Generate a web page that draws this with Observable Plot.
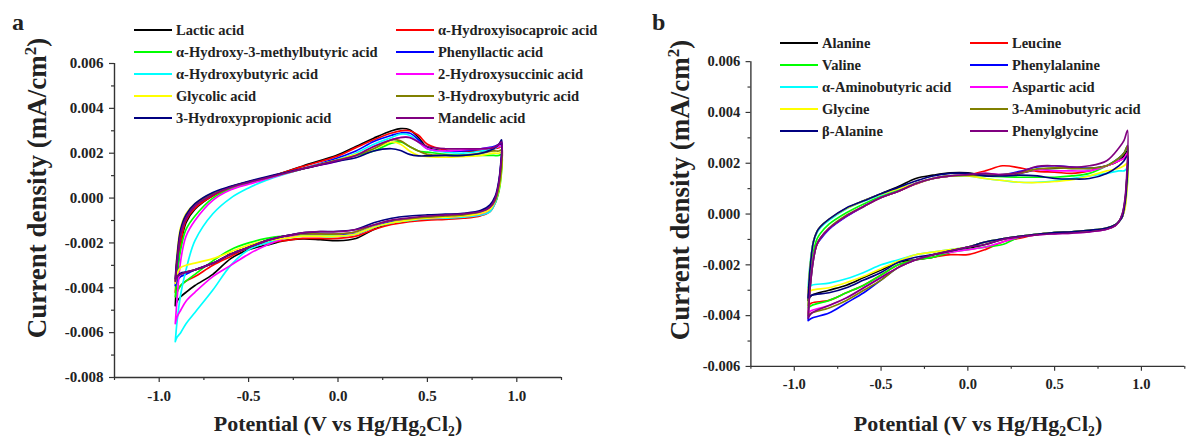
<!DOCTYPE html>
<html>
<head>
<meta charset="utf-8">
<script src="https://cdn.jsdelivr.net/npm/d3@7"></script>
<script src="https://cdn.jsdelivr.net/npm/@observablehq/plot@0.6"></script>
<style>
  html, body { margin: 0; padding: 0; background: #fff; }
  body { width: 1195px; height: 439px; overflow: hidden; position: relative;
         font-family: "Liberation Serif", "Times New Roman", serif; font-weight: bold; color: #222; }
  .panel { position: absolute; top: 0; }
  .letter { position: absolute; font-size: 24px; line-height: 1; }
  .ytitle { position: absolute; font-size: 27px; white-space: nowrap; line-height: 1;
            transform: translate(-50%, -50%) rotate(-90deg); }
  .xtitle { position: absolute; font-size: 22px; white-space: nowrap; line-height: 1;
            transform: translate(-50%, -50%); }
  .legend { position: absolute; display: grid; font-size: 14.5px; }
  .item { display: flex; align-items: center; height: 22px; white-space: pre; }
  .sw { display: inline-block; width: 38px; height: 2px; margin-right: 4px; }
  sub, sup { font-size: 0.62em; line-height: 0; }
</style>
</head>
<body>
<div class="panel" id="pa" style="left:0"></div>
<div class="panel" id="pb" style="left:598px"></div>
<script>
// ---------- shared ----------
const colors = ["#000000", "#ff0000", "#00ff00", "#0000ff", "#00ffff", "#ff00ff", "#ffff00", "#808000", "#000080", "#800080"];
const xDomain = [-1.25, 1.25];
const xMajor = [-1.0, -0.5, 0.0, 0.5, 1.0];
const xMinor = [-1.25, -0.75, -0.25, 0.25, 0.75, 1.25];

// ---------- panel a : hydroxy acids ----------
const aNames = ["Lactic acid", "α-Hydroxyisocaproic acid", "α-Hydroxy-3-methylbutyric acid", "Phenyllactic acid",
  "α-Hydroxybutyric acid", "2-Hydroxysuccinic acid", "Glycolic acid", "3-Hydroxybutyric acid",
  "3-Hydroxypropionic acid", "Mandelic acid"];
const aYDomain = [-0.008, 0.006];
const aYMajor = [-0.008, -0.006, -0.004, -0.002, 0.000, 0.002, 0.004, 0.006];
const aYMinor = [-0.007, -0.005, -0.003, -0.001, 0.001, 0.003, 0.005];
// anodic (forward) scan potentials, V
const aFwdV = [-0.91, -0.9, -0.88, -0.85, -0.8, -0.7, -0.6, -0.5, -0.4, -0.2, 0, 0.1, 0.2, 0.3, 0.35, 0.4, 0.45, 0.5, 0.6, 0.7, 0.8, 0.87, 0.9, 0.915];
// current density on forward scan, mA/cm2 (one row per series, in aNames order)
const aFwdJ = [
  [-0.0048, -0.0035, -0.0021, -0.0011, -0.0005, 0.0001, 0.00045, 0.0007, 0.0009, 0.00142, 0.00193, 0.0023, 0.00267, 0.003, 0.0031, 0.00305, 0.0027, 0.00225, 0.0021, 0.0021, 0.0021, 0.0022, 0.0023, 0.0024],
  [-0.0042, -0.0032, -0.002, -0.001, -0.00045, 0.0001, 0.00045, 0.0007, 0.0009, 0.0014, 0.00188, 0.00225, 0.0026, 0.0029, 0.003, 0.003, 0.0028, 0.0024, 0.00215, 0.0021, 0.00212, 0.0022, 0.00225, 0.0023],
  [-0.0044, -0.0034, -0.0023, -0.0014, -0.0008, 0.0, 0.0004, 0.00065, 0.00088, 0.0013, 0.0017, 0.0019, 0.0021, 0.00245, 0.0025, 0.0023, 0.0021, 0.00205, 0.00195, 0.0019, 0.0019, 0.0019, 0.0019, 0.00195],
  [-0.0039, -0.003, -0.0016, -0.0009, -0.00035, 0.00018, 0.0005, 0.00072, 0.0009, 0.0013, 0.0018, 0.0021, 0.00252, 0.0028, 0.0029, 0.0029, 0.0026, 0.0022, 0.0021, 0.0021, 0.0022, 0.0023, 0.0024, 0.00245],
  [-0.0064, -0.0055, -0.0043, -0.0032, -0.0019, -0.0007, 0.0, 0.00045, 0.0008, 0.0013, 0.00172, 0.002, 0.0024, 0.0027, 0.00285, 0.0028, 0.0025, 0.0022, 0.00205, 0.002, 0.0021, 0.0022, 0.0023, 0.0023],
  [-0.0056, -0.0045, -0.0028, -0.0017, -0.001, -0.0001, 0.00037, 0.00062, 0.00085, 0.0013, 0.00165, 0.0019, 0.0023, 0.0026, 0.0027, 0.0027, 0.0025, 0.0022, 0.0021, 0.00215, 0.0022, 0.00225, 0.0023, 0.00235],
  [-0.0038, -0.0025, -0.0013, -0.0007, -0.00025, 0.00022, 0.0005, 0.00072, 0.00092, 0.0013, 0.0017, 0.00195, 0.0022, 0.0025, 0.0024, 0.0021, 0.0019, 0.00185, 0.00182, 0.00185, 0.0019, 0.002, 0.002, 0.00205],
  [-0.0037, -0.0028, -0.0015, -0.0008, -0.0003, 0.0002, 0.0005, 0.00072, 0.0009, 0.0013, 0.0017, 0.0019, 0.0022, 0.0026, 0.00255, 0.0023, 0.0021, 0.00195, 0.0019, 0.0019, 0.002, 0.0021, 0.0021, 0.00215],
  [-0.0036, -0.0026, -0.0014, -0.00075, -0.00025, 0.00025, 0.00052, 0.00075, 0.00095, 0.0013, 0.00165, 0.0018, 0.0021, 0.0022, 0.00212, 0.00195, 0.00188, 0.00188, 0.0019, 0.0019, 0.002, 0.0022, 0.0024, 0.0026],
  [-0.0037, -0.0028, -0.0016, -0.0009, -0.00035, 0.00015, 0.00048, 0.0007, 0.0009, 0.0013, 0.00168, 0.0019, 0.0023, 0.0026, 0.0027, 0.0027, 0.0025, 0.0023, 0.0022, 0.0022, 0.0022, 0.00225, 0.0024, 0.0025]
];
// cathodic (reverse) scan potentials, V
const aRevV = [0.91, 0.9, 0.88, 0.85, 0.8, 0.7, 0.6, 0.5, 0.4, 0.3, 0.2, 0.1, 0, -0.1, -0.2, -0.3, -0.4, -0.5, -0.6, -0.7, -0.8, -0.85, -0.88, -0.9];
const aRevJ = [
  [0.0012, 0.0005, -0.0001, -0.0005, -0.0007, -0.00082, -0.0009, -0.00092, -0.001, -0.0011, -0.0014, -0.0018, -0.0019, -0.00185, -0.00182, -0.0019, -0.0021, -0.0023, -0.0027, -0.0034, -0.0039, -0.0042, -0.0044, -0.0046],
  [0.001, 0.0004, -0.0002, -0.0006, -0.00078, -0.0009, -0.00095, -0.00098, -0.00105, -0.00118, -0.0014, -0.0017, -0.0018, -0.0018, -0.0018, -0.0019, -0.002, -0.0022, -0.0026, -0.003, -0.0035, -0.0037, -0.0039, -0.0041],
  [0.0008, 0.0003, -0.0002, -0.0005, -0.0007, -0.00082, -0.00088, -0.0009, -0.00098, -0.0011, -0.0013, -0.0016, -0.0017, -0.0017, -0.0017, -0.0017, -0.0018, -0.002, -0.0023, -0.0028, -0.0034, -0.0037, -0.0039, -0.0042],
  [0.0014, 0.0007, 0.0, -0.0004, -0.0006, -0.00075, -0.0008, -0.00085, -0.00095, -0.00105, -0.0013, -0.0016, -0.0016, -0.0016, -0.0016, -0.0017, -0.0019, -0.0022, -0.0025, -0.0029, -0.0032, -0.0034, -0.0035, -0.0037],
  [0.0012, 0.0005, -0.0002, -0.0006, -0.00075, -0.00085, -0.0009, -0.00092, -0.001, -0.0011, -0.0013, -0.0016, -0.0017, -0.0017, -0.0017, -0.0018, -0.002, -0.0023, -0.003, -0.0041, -0.0051, -0.0056, -0.006, -0.0062],
  [0.0012, 0.0005, -0.0001, -0.0005, -0.0007, -0.0008, -0.00085, -0.0009, -0.00095, -0.001, -0.0012, -0.0015, -0.0016, -0.0016, -0.0016, -0.0018, -0.0021, -0.0025, -0.003, -0.0035, -0.0042, -0.0046, -0.005, -0.0053],
  [0.0009, 0.0004, -0.0001, -0.0005, -0.00068, -0.0008, -0.00085, -0.0009, -0.00098, -0.0011, -0.0013, -0.0016, -0.0017, -0.0017, -0.0017, -0.0018, -0.0019, -0.0021, -0.0024, -0.0027, -0.0029, -0.003, -0.0031, -0.0034],
  [0.001, 0.0005, -0.0001, -0.0004, -0.0006, -0.00075, -0.0008, -0.00085, -0.00092, -0.001, -0.0012, -0.0015, -0.0016, -0.0016, -0.0016, -0.0017, -0.0019, -0.0022, -0.0025, -0.0029, -0.0032, -0.0033, -0.0034, -0.0035],
  [0.0015, 0.0008, 0.0001, -0.0003, -0.00055, -0.00068, -0.00072, -0.00075, -0.0008, -0.0009, -0.0011, -0.0014, -0.00148, -0.0015, -0.00155, -0.0017, -0.0019, -0.0022, -0.0025, -0.0029, -0.0032, -0.0033, -0.00335, -0.0035],
  [0.0014, 0.0007, 0.0, -0.0004, -0.0006, -0.0007, -0.00075, -0.0008, -0.00088, -0.00098, -0.0012, -0.0014, -0.0015, -0.0015, -0.00155, -0.0017, -0.0019, -0.0022, -0.0025, -0.0029, -0.0032, -0.0033, -0.0034, -0.0035]
];

// ---------- panel b : amino acids ----------
const bNames = ["Alanine", "Leucine", "Valine", "Phenylalanine", "α-Aminobutyric acid", "Aspartic acid",
  "Glycine", "3-Aminobutyric acid", "β-Alanine", "Phenylglycine"];
const bYDomain = [-0.006, 0.006];
const bYMajor = [-0.006, -0.004, -0.002, 0.000, 0.002, 0.004, 0.006];
const bYMinor = [-0.005, -0.003, -0.001, 0.001, 0.003, 0.005];
const bFwdV = [-0.92, -0.91, -0.89, -0.87, -0.85, -0.8, -0.7, -0.6, -0.5, -0.4, -0.3, -0.2, -0.1, 0, 0.1, 0.2, 0.3, 0.4, 0.5, 0.6, 0.7, 0.8, 0.87, 0.9, 0.92];
const bFwdJ = [
  [-0.0034, -0.0022, -0.0011, -0.0007, -0.0005, -0.00022, 0.00022, 0.00052, 0.0008, 0.00108, 0.0014, 0.00153, 0.00162, 0.00162, 0.00152, 0.0015, 0.0016, 0.00175, 0.0018, 0.0018, 0.0018, 0.0019, 0.0021, 0.0023, 0.0025],
  [-0.0036, -0.0028, -0.0017, -0.0012, -0.00095, -0.00057, -0.00008, 0.0003, 0.00065, 0.0009, 0.00118, 0.0014, 0.0015, 0.00155, 0.0017, 0.0019, 0.00182, 0.00168, 0.00165, 0.0016, 0.0017, 0.0019, 0.0021, 0.0022, 0.0024],
  [-0.0037, -0.0026, -0.0015, -0.001, -0.00077, -0.0004, 0.00005, 0.0004, 0.0007, 0.00095, 0.0012, 0.0014, 0.0015, 0.00152, 0.0015, 0.00147, 0.00145, 0.00145, 0.00145, 0.0015, 0.0016, 0.0019, 0.0022, 0.0024, 0.0026],
  [-0.0042, -0.003, -0.0018, -0.0012, -0.001, -0.0006, -0.0001, 0.0003, 0.00065, 0.0009, 0.0012, 0.0014, 0.0015, 0.00153, 0.00155, 0.00155, 0.00168, 0.00185, 0.0019, 0.00185, 0.0018, 0.0019, 0.0022, 0.0024, 0.0027],
  [-0.0029, -0.002, -0.0011, -0.00075, -0.00055, -0.00025, 0.0002, 0.0005, 0.00075, 0.001, 0.0012, 0.0014, 0.0015, 0.0015, 0.0014, 0.00132, 0.00125, 0.00125, 0.0013, 0.0014, 0.0015, 0.0016, 0.0017, 0.0017, 0.0018],
  [-0.0039, -0.0029, -0.0017, -0.0012, -0.00095, -0.00057, -0.00008, 0.0003, 0.00065, 0.0009, 0.0012, 0.0014, 0.0015, 0.00155, 0.0016, 0.00155, 0.00162, 0.00175, 0.0017, 0.0017, 0.0017, 0.0019, 0.0021, 0.0022, 0.0024],
  [-0.0031, -0.0021, -0.0011, -0.0007, -0.0005, -0.0002, 0.00022, 0.00052, 0.00078, 0.001, 0.0012, 0.0014, 0.0015, 0.0015, 0.0014, 0.00132, 0.00125, 0.00124, 0.00128, 0.00135, 0.0015, 0.0017, 0.0018, 0.0019, 0.002],
  [-0.004, -0.003, -0.0018, -0.0012, -0.00095, -0.00055, -0.00005, 0.0003, 0.00065, 0.0009, 0.0012, 0.0014, 0.0015, 0.00152, 0.00152, 0.00155, 0.00162, 0.00178, 0.00182, 0.0018, 0.0018, 0.0019, 0.0022, 0.0024, 0.0027],
  [-0.0033, -0.0022, -0.0011, -0.0007, -0.0005, -0.0002, 0.00024, 0.00052, 0.0008, 0.00105, 0.0013, 0.0015, 0.0016, 0.0016, 0.0015, 0.0015, 0.00153, 0.0015, 0.0014, 0.00138, 0.0014, 0.0016, 0.0019, 0.0021, 0.0023],
  [-0.0041, -0.003, -0.0018, -0.0012, -0.00095, -0.00057, -0.00008, 0.0003, 0.00065, 0.0009, 0.0012, 0.0014, 0.0015, 0.00155, 0.0016, 0.00155, 0.00165, 0.00188, 0.0019, 0.00185, 0.0019, 0.0021, 0.0026, 0.0029, 0.0033]
];
const bRevV = [0.915, 0.905, 0.89, 0.87, 0.85, 0.8, 0.7, 0.6, 0.5, 0.4, 0.3, 0.2, 0.1, 0, -0.1, -0.2, -0.3, -0.4, -0.5, -0.6, -0.7, -0.8, -0.9];
const bRevJ = [
  [0.0012, 0.0004, -0.0001, -0.0003, -0.00045, -0.0006, -0.00068, -0.00072, -0.00075, -0.0008, -0.00088, -0.001, -0.0012, -0.00135, -0.0015, -0.0017, -0.0018, -0.0019, -0.0022, -0.0025, -0.0028, -0.003, -0.0032],
  [0.0011, 0.0003, -0.0001, -0.0003, -0.00045, -0.00058, -0.00066, -0.0007, -0.00073, -0.0008, -0.00095, -0.0011, -0.0014, -0.0016, -0.0016, -0.0017, -0.0018, -0.002, -0.0024, -0.0028, -0.0031, -0.0034, -0.0035],
  [0.0012, 0.0004, -0.0001, -0.0003, -0.00045, -0.00058, -0.00066, -0.0007, -0.00073, -0.0008, -0.0009, -0.0012, -0.0013, -0.0014, -0.0015, -0.0017, -0.0018, -0.002, -0.0024, -0.0028, -0.0031, -0.0034, -0.0036],
  [0.0013, 0.0005, 0.0, -0.0003, -0.00042, -0.00055, -0.00064, -0.0007, -0.00073, -0.0008, -0.00088, -0.00098, -0.0011, -0.0013, -0.00145, -0.0016, -0.0018, -0.0021, -0.0026, -0.0031, -0.0035, -0.0039, -0.0041],
  [0.0009, 0.0003, -0.0001, -0.0003, -0.00042, -0.00055, -0.00064, -0.0007, -0.00073, -0.0008, -0.00088, -0.00098, -0.0011, -0.0013, -0.0014, -0.0015, -0.0016, -0.0018, -0.002, -0.0023, -0.00255, -0.00272, -0.0028],
  [0.0011, 0.0004, -0.0001, -0.0003, -0.00045, -0.0006, -0.0007, -0.00075, -0.00078, -0.00082, -0.0009, -0.0011, -0.0013, -0.0014, -0.0015, -0.0016, -0.0018, -0.0021, -0.0025, -0.0029, -0.0033, -0.0036, -0.0038],
  [0.0008, 0.0002, -0.0001, -0.0003, -0.00042, -0.00055, -0.00064, -0.0007, -0.00073, -0.0008, -0.00088, -0.00098, -0.0011, -0.0013, -0.0014, -0.0015, -0.0016, -0.00185, -0.00215, -0.00245, -0.0027, -0.0029, -0.003],
  [0.0013, 0.0005, 0.0, -0.0003, -0.00042, -0.00055, -0.00064, -0.0007, -0.00073, -0.0008, -0.00088, -0.00098, -0.0011, -0.0013, -0.00145, -0.0016, -0.0018, -0.0021, -0.0026, -0.003, -0.0034, -0.0037, -0.0039],
  [0.0011, 0.0004, -0.0001, -0.0003, -0.00042, -0.00055, -0.00064, -0.0007, -0.00073, -0.0008, -0.00088, -0.00098, -0.0011, -0.0013, -0.00145, -0.0016, -0.0017, -0.0019, -0.0023, -0.0026, -0.0029, -0.0031, -0.0032],
  [0.0015, 0.0006, 0.0, -0.0003, -0.00045, -0.0006, -0.0007, -0.00075, -0.00078, -0.00082, -0.0009, -0.001, -0.0012, -0.0013, -0.00145, -0.0016, -0.0018, -0.0021, -0.0025, -0.0029, -0.0033, -0.0036, -0.0039]
];

// ---------- build closed CV loops ----------
function loopRows(names, fwdV, fwdJ, revV, revJ) {
  const rows = [];
  names.forEach((name, i) => {
    fwdV.forEach((v, k) => rows.push({name, v, j: fwdJ[i][k]}));
    revV.forEach((v, k) => rows.push({name, v, j: revJ[i][k]}));
    rows.push({name, v: fwdV[0], j: fwdJ[i][0]});
  });
  return rows;
}

function panel({names, rows, yDomain, yMajor, yMinor, width, marginLeft, marginRight}) {
  const axisColor = "#333";
  return Plot.plot({
    width, height: 439,
    marginLeft, marginRight, marginTop: 63, marginBottom: 62,
    x: {domain: xDomain},
    y: {domain: yDomain},
    color: {domain: names, range: colors},
    style: {fontFamily: "'Liberation Serif', 'Times New Roman', serif", fontWeight: "bold",
            fontSize: "15px", color: "#222", background: "transparent", overflow: "visible"},
    marks: [
      Plot.line(rows, {x: "v", y: "j", z: "name", stroke: "name", curve: "catmull-rom", strokeWidth: 1.7}),
      Plot.ruleX([xDomain[0]], {stroke: axisColor, strokeWidth: 1.4}),
      Plot.ruleY([yDomain[0]], {stroke: axisColor, strokeWidth: 1.4}),
      Plot.axisX({ticks: xMajor, tickSize: 5, tickPadding: 8, tickFormat: d => d.toFixed(1), label: null, stroke: axisColor, strokeWidth: 1.2}),
      Plot.axisX({ticks: xMinor, tickSize: 3, tickFormat: () => "", label: null, stroke: axisColor, strokeWidth: 1.2}),
      Plot.axisY({ticks: yMajor, tickSize: 5, tickPadding: 6, tickFormat: d => d.toFixed(3), label: null, stroke: axisColor, strokeWidth: 1.2}),
      Plot.axisY({ticks: yMinor, tickSize: 3, tickFormat: () => "", label: null, stroke: axisColor, strokeWidth: 1.2})
    ]
  });
}

document.getElementById("pa").append(panel({
  names: aNames, rows: loopRows(aNames, aFwdV, aFwdJ, aRevV, aRevJ),
  yDomain: aYDomain, yMajor: aYMajor, yMinor: aYMinor,
  width: 597, marginLeft: 114, marginRight: 36
}));
document.getElementById("pb").append(panel({
  names: bNames, rows: loopRows(bNames, bFwdV, bFwdJ, bRevV, bRevJ),
  yDomain: bYDomain, yMajor: bYMajor, yMinor: bYMinor,
  width: 615, marginLeft: 157, marginRight: 11
}));

// ---------- HTML text: panel letters, titles, legends ----------
function addDiv(cls, html, style) {
  const d = document.createElement("div");
  d.className = cls; d.innerHTML = html;
  Object.assign(d.style, style);
  document.body.append(d);
  return d;
}
addDiv("letter", "a", {left: "12px", top: "10px"});
addDiv("letter", "b", {left: "652px", top: "10px"});
const yTitle = "Current density (mA/cm<sup>2</sup>)";
const xTitle = "Potential (V vs Hg/Hg<sub>2</sub>Cl<sub>2</sub>)";
addDiv("ytitle", yTitle, {left: "37px", top: "188px"});
addDiv("ytitle", yTitle, {left: "680px", top: "190px"});
addDiv("xtitle", xTitle, {left: "338px", top: "424px"});
addDiv("xtitle", xTitle, {left: "978px", top: "424px"});

function legend(names, left, top, col1) {
  const lg = addDiv("legend", "", {left: left + "px", top: top + "px", gridTemplateColumns: col1 + "px auto"});
  names.forEach((name, i) => {
    const it = document.createElement("div");
    it.className = "item";
    const sw = document.createElement("span");
    sw.className = "sw"; sw.style.background = colors[i];
    const tx = document.createElement("span");
    tx.textContent = name;
    it.append(sw, tx);
    lg.append(it);
  });
}
legend(aNames, 134, 19, 262);
legend(bNames, 780, 32, 190);
</script>
</body>
</html>
